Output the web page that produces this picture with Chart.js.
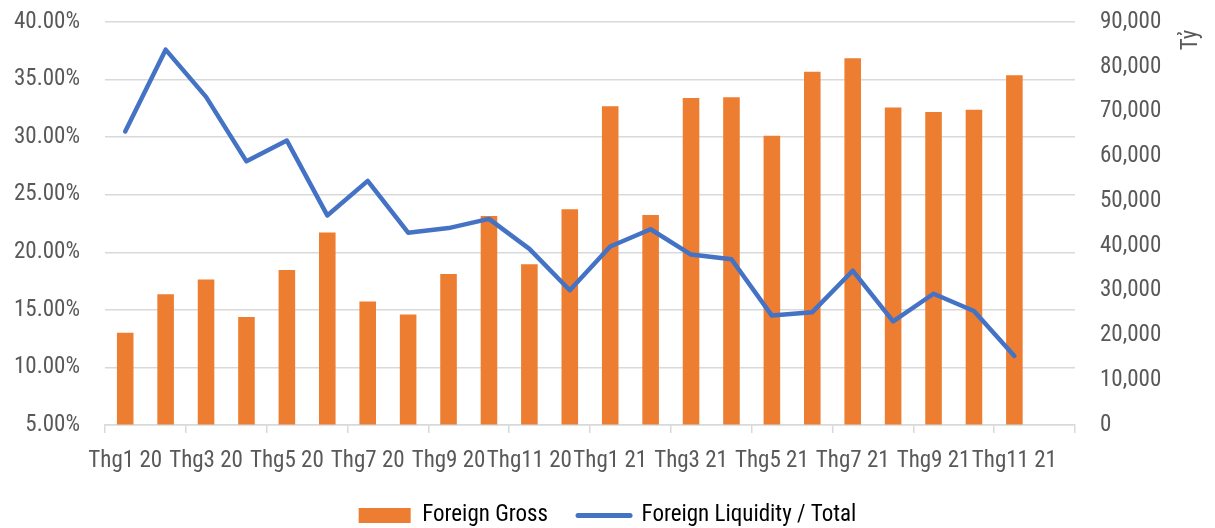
<!DOCTYPE html>
<html>
<head>
<meta charset="utf-8">
<script src="https://cdn.jsdelivr.net/npm/chart.js@4/dist/chart.umd.min.js"></script>
<style>
  html, body { margin: 0; padding: 0; background: #fff; }
  #wrap { width: 1215px; height: 528px; position: relative; }
</style>
</head>
<body>
<div id="wrap"><canvas id="chart"></canvas></div>
<script>
// ── Data ──
const months = [
  "Thg1 20", "Thg2 20", "Thg3 20", "Thg4 20", "Thg5 20", "Thg6 20",
  "Thg7 20", "Thg8 20", "Thg9 20", "Thg10 20", "Thg11 20", "Thg12 20",
  "Thg1 21", "Thg2 21", "Thg3 21", "Thg4 21", "Thg5 21", "Thg6 21",
  "Thg7 21", "Thg8 21", "Thg9 21", "Thg10 21", "Thg11 21", "Thg12 21"
];

// Tỷ đồng
const foreignGross = [
  20600, 29200, 32500, 24100, 34600, 43000, 27600, 24700,
  33700, 46700, 35900, 48200, 71200, 46900, 73000, 73200,
  64600, 78900, 81900, 70900, 69900, 70400, 78100, null
];

// percent
const liquidityShare = [
  30.5, 37.6, 33.5, 27.9, 29.7, 23.2, 26.2, 21.7,
  22.1, 22.9, 20.3, 16.7, 20.5, 22.0, 19.8, 19.4,
  14.5, 14.8, 18.4, 14.0, 16.4, 14.9, 11.0, null
];

const leftTicks  = { min: 5, max: 40, step: 5 };
const rightTicks = { min: 0, max: 90000, step: 10000 };
const rightTitle = "Tỷ";

const FONT   = "'Liberation Sans Narrow', 'Roboto Condensed', Roboto, sans-serif";
const TEXT   = "#595959";
const GRID   = "#d9d9d9";
const ORANGE = "#ed7d31";
const BLUE   = "#4472c4";

// ── Rotated right axis title (reads bottom to top, like Excel) ──
const rightTitlePlugin = {
  id: "rightTitle",
  afterDraw(chart) {
    const ctx = chart.ctx;
    const y1 = chart.scales.y1;
    ctx.save();
    ctx.translate(y1.right - 24, y1.top + 18);
    ctx.rotate(-Math.PI / 2);
    ctx.font = "23px " + FONT;
    ctx.fillStyle = TEXT;
    ctx.textAlign = "center";
    ctx.textBaseline = "middle";
    ctx.fillText(rightTitle, 0, 0);
    ctx.restore();
  }
};

// keep the plot box where the reference has it
function noLabelPadding(scale) {
  scale.paddingTop = 0;
  scale.paddingBottom = 0;
}

new Chart(document.getElementById("chart"), {
  data: {
    labels: months,
    datasets: [
      {
        type: "bar",
        label: "Foreign Gross",
        data: foreignGross,
        yAxisID: "y1",
        backgroundColor: ORANGE,
        borderWidth: 0,
        categoryPercentage: 1,
        barPercentage: 0.41,
        order: 2,
      },
      {
        type: "line",
        label: "Foreign Liquidity / Total",
        data: liquidityShare,
        yAxisID: "y",
        borderColor: BLUE,
        backgroundColor: BLUE,
        borderWidth: 4.5,
        borderJoinStyle: "round",
        borderCapStyle: "round",
        pointRadius: 0,
        tension: 0,
        order: 1,
      },
    ],
  },
  options: {
    responsive: true,
    maintainAspectRatio: false,
    animation: false,
    layout: { padding: { top: 22, left: 0, right: 0, bottom: -9 } },
    plugins: {
      tooltip: { enabled: false },
      legend: {
        position: "bottom",
        labels: {
          font: { family: FONT, size: 23, lineHeight: 1 },
          color: TEXT,
          usePointStyle: true,
          pointStyleWidth: 52,
          boxHeight: 15,
          padding: 30,
          generateLabels(chart) {
            return chart.data.datasets.map((ds, i) => ({
              text: ds.label,
              datasetIndex: i,
              fillStyle: ds.type === "bar" ? ORANGE : BLUE,
              strokeStyle: ds.type === "bar" ? ORANGE : BLUE,
              lineWidth: ds.type === "bar" ? 0 : 5,
              lineCap: "round",
              pointStyle: ds.type === "bar" ? "rect" : "line",
              hidden: false,
            }));
          },
        },
      },
    },
    scales: {
      x: {
        offset: true,
        afterFit(scale) { scale.height = 49; },
        grid: {
          offset: true,
          drawOnChartArea: false,
          drawTicks: true,
          tickLength: 8,
          lineWidth: 1.5,
          color: (c) => (c.type !== "tick" || c.index % 2 === 0) ? GRID : "rgba(0,0,0,0)",
        },
        border: { display: true, color: GRID, width: 1.5 },
        ticks: {
          autoSkip: false,
          maxRotation: 0,
          minRotation: 0,
          padding: 17,
          color: TEXT,
          font: { family: FONT, size: 23, lineHeight: 1 },
          callback(value, index) {
            return index % 2 === 0 ? months[index] : "";
          },
        },
      },
      y: {
        position: "left",
        min: leftTicks.min,
        max: leftTicks.max,
        afterFit(scale) { scale.width = 105; noLabelPadding(scale); },
        grid: { color: GRID, lineWidth: 1.5, drawTicks: false },
        border: { display: false },
        ticks: {
          stepSize: leftTicks.step,
          padding: 25,
          color: TEXT,
          font: { family: FONT, size: 23 },
          callback: (v) => v.toFixed(2) + "%",
        },
      },
      y1: {
        position: "right",
        min: rightTicks.min,
        max: rightTicks.max,
        afterFit(scale) { scale.width = 140; noLabelPadding(scale); },
        grid: { drawOnChartArea: false, drawTicks: false },
        border: { display: false },
        ticks: {
          stepSize: rightTicks.step,
          padding: 25,
          color: TEXT,
          font: { family: FONT, size: 23 },
          callback: (v) => v.toLocaleString("en-US"),
        },
      },
    },
  },
  plugins: [rightTitlePlugin],
});
</script>
</body>
</html>
